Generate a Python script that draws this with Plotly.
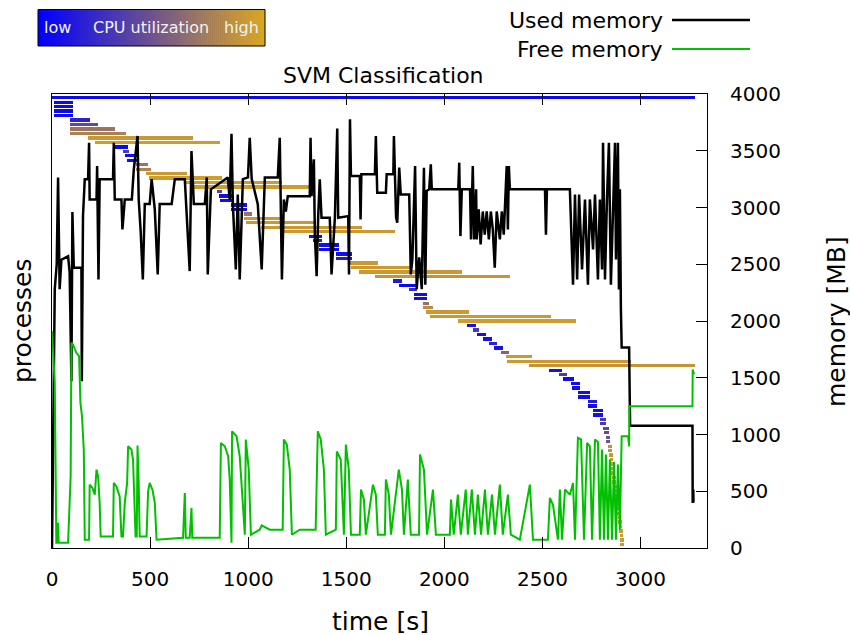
import plotly.graph_objects as go

# ---------------- process bars (start [s], end [s], CPU utilisation 0..1) -------------
proc_start = [0, 10, 10, 10, 10, 92, 92, 92, 92, 184, 219, 310, 362, 372, 383, 430, 430, 478, 492, 672,
              706, 840, 850, 855, 910, 910, 977, 980, 990, 1065, 1170, 1311, 1332, 1362, 1362, 1447, 1447,
              1515, 1522, 1566, 1648, 1737, 1769, 1821, 1847, 1847, 1893, 1893, 1907, 1927, 2071, 2114,
              2148, 2165, 2196, 2228, 2254, 2288, 2315, 2320, 2434, 2531, 2585, 2607, 2646, 2653, 2679,
              2679, 2733, 2733, 2760, 2760, 2794, 2794, 2811, 2813, 2822, 2822,
              2833, 2835, 2839, 2842, 2845, 2849, 2850, 2856, 2857, 2861, 2864, 2867, 2871, 2873, 2876,
              2879, 2883, 2884, 2888, 2890, 2893, 2896, 2898]
proc_end = [3279, 109, 109, 109, 109, 196, 235, 323, 378, 719, 856, 388, 393, 444, 444, 487, 504, 686, 868, 1170,
            1327, 867, 923, 923, 992, 992, 1020, 1182, 1344, 1582, 1749, 1374, 1374, 1463, 1463, 1531, 1531,
            1663, 1837, 2089, 2335, 1783, 1862, 1862, 1910, 1910, 1923, 1941, 2128, 2544, 2670, 2162,
            2179, 2213, 2245, 2267, 2301, 2330, 2447, 2953, 3276, 2602, 2624, 2663, 2694, 2694, 2743,
            2743, 2778, 2778, 2808, 2808, 2824, 2824, 2840, 2840, 2847, 2847,
            2853, 2855, 2859, 2862, 2865, 2869, 2870, 2876, 2877, 2881, 2884, 2887, 2891, 2893, 2896,
            2899, 2903, 2904, 2908, 2910, 2913, 2916, 2918]
proc_cpu = [0.05, 0.05, 0.05, 0.05, 0.05, 0.2, 0.45, 0.7, 0.78, 0.92, 0.95, 0.05, 0.35, 0.08, 0.08, 0.7, 0.8,
            0.93, 0.95, 0.95, 0.95, 0.4, 0.08, 0.08, 0.08, 0.08, 0.7, 0.93, 0.93, 0.93, 0.93, 0.08, 0.2,
            0.08, 0.08, 0.08, 0.15, 0.93, 0.93, 0.93, 0.9, 0.15, 0.05, 0.25, 0.08, 0.08, 0.68, 0.85, 0.93,
            0.93, 0.95, 0.1, 0.35, 0.1, 0.1, 0.2, 0.1, 0.6, 0.93, 0.93, 0.9, 0.1, 0.35, 0.08, 0.08, 0.08,
            0.08, 0.08, 0.15, 0.08, 0.08, 0.1, 0.35, 0.35, 0.45, 0.45, 0.5, 0.5,
            0.88, 0.9, 0.92, 0.93, 0.93, 0.93, 0.93, 0.93, 0.93, 0.93, 0.93, 0.93, 0.93, 0.93, 0.93,
            0.93, 0.93, 0.93, 0.93, 0.93, 0.93, 0.93, 0.93]
proc_idx = list(range(1, len(proc_start) + 1))
proc_dur = [e - s for s, e in zip(proc_start, proc_end)]

# ---------------- memory series ----------------
used_t = [0, 9, 14, 24, 31, 39, 48, 82, 90, 99, 104, 111, 150, 152, 158, 167, 184, 189, 192, 227, 230, 237,
          243, 311, 315, 320, 354, 359, 371, 407, 417, 436, 442, 452, 463, 473, 498, 508, 524, 539, 549,
          610, 626, 677, 687, 702, 711, 723, 779, 789, 794, 810, 896, 906, 915, 922, 937, 947, 957, 973,
          999, 1008, 1018, 1049, 1069, 1085, 1151, 1161, 1172, 1182, 1192, 1202, 1314, 1318, 1323, 1335,
          1340, 1349, 1357, 1365, 1374, 1416, 1425, 1442, 1454, 1459, 1510, 1514, 1519, 1524, 1569, 1573,
          1577, 1646, 1651, 1658, 1702, 1706, 1740, 1743, 1754, 1760, 1770, 1778, 1821, 1829, 1837, 1851,
          1859, 1872, 1885, 1896, 1903, 1910, 1923, 1931, 1936, 2071, 2076, 2082, 2089, 2131, 2136, 2145,
          2152, 2162, 2165, 2175, 2185, 2196, 2206, 2216, 2227, 2237, 2247, 2257, 2267, 2283, 2293, 2303,
          2318, 2324, 2329, 2334, 2436, 2513, 2518, 2523, 2640, 2656, 2666, 2677, 2687, 2702, 2717, 2732,
          2742, 2758, 2768, 2783, 2793, 2804, 2809, 2819, 2829, 2839, 2849, 2860, 2870, 2875, 2885, 2890,
          2895, 2900, 2904, 2942, 2945, 2947, 3265, 3266, 3269, 3270]
used_mb = [0, 1310, 2280, 2500, 3265, 2280, 2540, 2570, 2430, 1470, 2960, 2470, 2470, 1470, 2925, 3250, 3250,
           3570, 3070, 3070, 3365, 2366, 3250, 3250, 3570, 3070, 3070, 2806, 3070, 3070, 3336, 3630, 3070,
           2790, 2366, 3030, 3030, 3250, 2983, 2410, 3030, 3030, 3250, 3250, 2940, 2440, 3497, 3030, 3030,
           3265, 2410, 3160, 3265, 3070, 3650, 3030, 2454, 3115, 2366, 3250, 3265, 3615, 3250, 3030, 2454,
           3265, 3265, 3615, 2366, 3070, 2965, 3100, 3100, 3615, 3100, 3424, 2760, 2395, 2924, 3248, 2910,
           2910, 2410, 2910, 3695, 2910, 2924, 2410, 3777, 3277, 3277, 2895, 3292, 3292, 3630, 3130, 3130,
           3292, 3292, 3630, 2910, 2866, 3351, 3115, 3115, 2410, 2542, 3365, 2280, 2560, 2280, 3351, 2320,
           3145, 3160, 3380, 3160, 3160, 3395, 2748, 3160, 3160, 2719, 3365, 2719, 3160, 2719, 2983, 2675,
           2965, 2760, 2965, 2719, 2965, 2807, 2469, 2965, 2719, 2965, 2760, 3365, 2807, 3365, 3160, 3160,
           3160, 2760, 3160, 3160, 2320, 3115, 2366, 3115, 2454, 3071, 2320, 3071, 2630, 3115, 2366, 3071,
           2454, 3570, 2366, 3071, 3570, 2320, 3071, 3570, 2542, 3570, 2278, 3160, 2117, 1766, 1766, 1264,
           1078, 1078, 397, 515, 400]

free_t = [0, 14, 22, 29, 31, 34, 82, 87, 95, 99, 107, 124, 138, 145, 153, 162, 167, 189, 192, 206, 218, 227,
          235, 243, 248, 311, 315, 329, 345, 354, 362, 371, 383, 388, 405, 413, 426, 432, 436, 442, 447, 482,
          490, 498, 512, 524, 533, 668, 677, 682, 702, 711, 715, 855, 861, 881, 898, 906, 915, 918, 941, 957,
          973, 983, 988, 1003, 1014, 1059, 1069, 1110, 1176, 1182, 1197, 1212, 1223, 1263, 1344, 1355, 1370,
          1386, 1396, 1447, 1452, 1472, 1488, 1498, 1513, 1524, 1569, 1575, 1590, 1600, 1636, 1651, 1661,
          1697, 1702, 1717, 1728, 1768, 1784, 1794, 1814, 1829, 1871, 1876, 1896, 1912, 1942, 1957, 2028,
          2034, 2048, 2069, 2084, 2109, 2120, 2140, 2156, 2171, 2187, 2207, 2222, 2243, 2258, 2283, 2298,
          2324, 2339, 2385, 2436, 2452, 2528, 2538, 2554, 2579, 2589, 2600, 2615, 2640, 2656, 2666, 2681,
          2697, 2712, 2728, 2742, 2753, 2768, 2783, 2793, 2804, 2814, 2824, 2834, 2844, 2855, 2865, 2875,
          2885, 2895, 2904, 2937, 2942, 2943, 3265, 3266, 3273]
free_mb = [1910, 1457, 47, 47, 223, 47, 47, 250, 631, 1808, 1793, 1720, 1690, 1279, 1160, 867, 73, 73, 558,
           529, 470, 690, 631, 397, 102, 102, 573, 540, 455, 102, 102, 399, 573, 896, 867, 779, 102, 102, 902,
           573, 102, 102, 500, 573, 514, 397, 73, 90, 485, 90, 90, 353, 90, 90, 926, 896, 808, 603, 47, 1028,
           984, 808, 427, 117, 956, 691, 117, 161, 200, 161, 161, 956, 911, 691, 117, 161, 161, 1028, 956,
           691, 117, 161, 850, 779, 117, 911, 691, 117, 117, 515, 427, 117, 558, 470, 117, 117, 603, 470,
           117, 691, 515, 117, 603, 117, 117, 823, 691, 117, 515, 117, 117, 427, 117, 470, 117, 515, 117,
           515, 117, 470, 117, 515, 117, 470, 117, 558, 117, 470, 117, 73, 558, 73, 73, 441, 380, 73, 515,
           73, 515, 470, 573, 73, 970, 956, 73, 926, 896, 73, 955, 935, 73, 867, 73, 823, 73, 779, 73, 760,
           73, 735, 161, 984, 984, 896, 1249, 1249, 1572, 1530]

# ---------------- figure ----------------
W, H = 850, 635
L, R, T, B = 52, 143, 94, 87
PW, PH = W - L - R, H - T - B
C_LOW, C_HIGH = (0, 0, 255), (218, 165, 32)


def px(x):
    return (x - L) / PW


def py(y):
    return (H - B - y) / PH


def mix(f):
    return "rgb(%d,%d,%d)" % tuple(round(a + (b - a) * f) for a, b in zip(C_LOW, C_HIGH))


FONT = "DejaVu Sans"
fig = go.Figure()

fig.add_trace(go.Bar(
    orientation="h", y=proc_idx, x=proc_dur, base=proc_start, width=0.74,
    marker=dict(color=proc_cpu, cmin=0, cmax=1,
                colorscale=[[0, mix(0)], [1, mix(1)]],
                line=dict(width=0), showscale=False),
    showlegend=False, hoverinfo="skip", xaxis="x", yaxis="y"))

fig.add_trace(go.Scatter(x=used_t, y=used_mb, mode="lines", line=dict(color="black", width=2.5),
                         yaxis="y2", showlegend=False))
fig.add_trace(go.Scatter(x=free_t, y=free_mb, mode="lines", line=dict(color="#00c000", width=2),
                         yaxis="y2", showlegend=False))

fig.update_layout(
    width=W, height=H, margin=dict(l=L, r=R, t=T, b=B, autoexpand=False),
    paper_bgcolor="white", plot_bgcolor="white",
    font=dict(family=FONT, size=20, color="black"),
    bargap=0,
    xaxis=dict(range=[0, 3339], dtick=500, tick0=0, ticks="inside", ticklen=11, tickcolor="black",
               showline=True, linecolor="black", linewidth=1, mirror="ticks", showgrid=False,
               zeroline=False, ticklabelstandoff=13, tickfont=dict(size=20)),
    yaxis=dict(range=[101.8, 0.17], showticklabels=False, ticks="", showline=True, linecolor="black",
               linewidth=1, mirror=True, showgrid=False, zeroline=False),
    yaxis2=dict(range=[0, 4000], overlaying="y", side="right", dtick=500, ticks="inside", ticklen=11,
                tickcolor="black", showline=True, linecolor="black", linewidth=1, showgrid=False,
                zeroline=False, ticklabelstandoff=18, tickfont=dict(size=20)),
)

# CPU utilisation key: gradient box (decoration)
BX0, BX1, BY0, BY1 = 38, 265, 9.5, 46
NSL = 114
for k in range(NSL):
    xa = BX0 + (BX1 - BX0) * k / NSL
    xb = BX0 + (BX1 - BX0) * (k + 1) / NSL + 0.6
    fig.add_shape(type="rect", xref="paper", yref="paper", x0=px(xa), x1=px(min(xb, BX1)),
                  y0=py(BY1), y1=py(BY0), line=dict(width=0), fillcolor=mix(k / (NSL - 1)), layer="above")
fig.add_shape(type="rect", xref="paper", yref="paper", x0=px(BX0), x1=px(BX1), y0=py(BY1), y1=py(BY0),
              line=dict(color="black", width=1), fillcolor="rgba(0,0,0,0)", layer="above")

ann = [
    dict(text="SVM Classification", x=px(383), y=py(75), font=dict(size=22)),
    dict(text="time [s]", x=px(380), y=py(621), font=dict(size=25)),
    dict(text="processes", x=px(22), y=py(321), textangle=-90, font=dict(size=25)),
    dict(text="memory [MB]", x=px(836), y=py(322), textangle=-90, font=dict(size=25)),
    dict(text="low", x=px(57), y=py(27.5), font=dict(size=16, color="#f2f2f2")),
    dict(text="CPU utilization", x=px(151), y=py(27.5), font=dict(size=16, color="#f2f2f2")),
    dict(text="high", x=px(241), y=py(27.5), font=dict(size=16, color="#f2f2f2")),
    dict(text="Used memory", x=px(665), y=py(20), xanchor="right", font=dict(size=22)),
    dict(text="Free memory", x=px(665), y=py(49), xanchor="right", font=dict(size=22)),
]
for a in ann:
    a.setdefault("xanchor", "center")
    fig.add_annotation(xref="paper", yref="paper", showarrow=False, yanchor="middle", **a)

fig.add_shape(type="line", xref="paper", yref="paper", x0=px(672), x1=px(750), y0=py(20), y1=py(20),
              line=dict(color="black", width=2.5))
fig.add_shape(type="line", xref="paper", yref="paper", x0=px(672), x1=px(750), y0=py(49), y1=py(49),
              line=dict(color="#00c000", width=2))

fig.write_html("out.html")
